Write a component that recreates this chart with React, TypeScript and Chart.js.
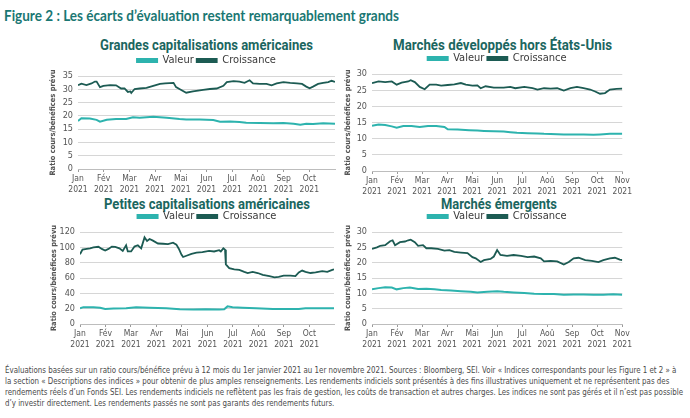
import React, { useEffect, useLayoutEffect, useRef } from "react";
import { Chart, registerables } from "chart.js";
Chart.register(...registerables);

// ---------- data ----------
const monthLabels = ["Jan", "Fév", "Mar", "Avr", "Mai", "Jun", "Jul", "Aoû", "Sep", "Oct", "Nov"];
const yearLabel = "2021";
const seriesNames = ["Valeur", "Croissance"];
const yAxisTitle = "Ratio cours/bénéfices prévu";
const panelTitles = [
  "Grandes capitalisations américaines",
  "Marchés développés hors États-Unis",
  "Petites capitalisations américaines",
  "Marchés émergents",
];

// x values are days since 1 Jan 2021
// Grandes capitalisations américaines
const largeGrowthDays = [0, 4, 10, 16, 20, 22, 26, 30, 38, 45, 51, 55, 59, 62, 63, 67, 73, 81, 89, 97, 103, 113, 116, 120, 128, 136, 148, 156, 164, 172, 176, 184, 191, 197, 203, 207, 215, 223, 229, 235, 243, 251, 259, 265, 270, 274, 278, 284, 290, 296, 300, 304];
const largeGrowthValues = [31.5, 32.1, 31.6, 32.2, 32.9, 32.9, 30.8, 31.3, 31.6, 31.5, 30.3, 30.3, 29.0, 29.2, 28.6, 30.1, 30.3, 30.5, 31.3, 32.0, 32.2, 32.4, 30.8, 30.1, 28.7, 29.2, 29.8, 30.1, 30.3, 31.3, 32.7, 33.1, 32.9, 32.4, 33.4, 32.2, 32.0, 32.0, 31.5, 32.2, 32.7, 32.4, 32.2, 32.0, 31.0, 30.4, 31.0, 32.0, 32.4, 32.7, 33.2, 32.8];
const largeValueDays = [0, 4, 14, 22, 26, 34, 45, 57, 65, 73, 89, 105, 120, 128, 144, 160, 168, 180, 191, 199, 215, 231, 243, 255, 263, 270, 278, 290, 304];
const largeValueValues = [18.1, 19.1, 19.0, 18.5, 17.8, 18.5, 18.8, 18.8, 19.5, 19.3, 19.7, 19.3, 18.8, 18.6, 18.6, 18.4, 17.8, 17.9, 17.7, 17.4, 17.3, 17.2, 17.3, 17.0, 16.7, 17.0, 16.9, 17.2, 17.0];

// Marchés développés hors États-Unis
const devGrowthDays = [0, 8, 16, 24, 30, 36, 44, 47, 52, 58, 64, 70, 78, 84, 92, 100, 108, 114, 122, 128, 132, 138, 148, 160, 168, 174, 185, 195, 201, 209, 217, 225, 233, 241, 249, 257, 265, 271, 277, 283, 289, 297, 304];
const devGrowthValues = [27.2, 27.7, 27.5, 27.7, 26.7, 27.3, 27.7, 28.1, 27.5, 26.0, 25.3, 26.7, 26.7, 26.4, 26.6, 26.8, 27.2, 26.7, 26.4, 26.5, 25.6, 26.2, 25.8, 25.8, 26.0, 25.6, 26.0, 25.6, 25.2, 25.6, 25.5, 25.6, 24.9, 25.6, 26.0, 25.6, 25.2, 24.6, 23.9, 24.1, 25.2, 25.4, 25.5];
const devValueDays = [0, 8, 16, 24, 30, 38, 48, 58, 68, 78, 88, 92, 104, 118, 128, 136, 148, 160, 168, 176, 189, 201, 209, 225, 233, 241, 257, 269, 277, 289, 304];
const devValueValues = [14.0, 14.4, 14.2, 13.8, 13.4, 13.9, 13.9, 13.6, 13.9, 13.9, 13.6, 12.9, 12.8, 12.6, 12.5, 12.4, 12.3, 12.2, 12.0, 11.8, 11.7, 11.6, 11.5, 11.4, 11.3, 11.3, 11.3, 11.2, 11.3, 11.5, 11.5];

// Petites capitalisations américaines
const smallGrowthDays = [0, 3, 8, 12, 16, 22, 26, 30, 34, 38, 42, 47, 51, 55, 57, 61, 65, 69, 73, 77, 80, 83, 87, 93, 99, 105, 111, 115, 118, 121, 123, 127, 133, 139, 146, 154, 160, 166, 168, 171, 173, 174, 178, 184, 190, 196, 200, 206, 212, 218, 226, 232, 237, 243, 251, 257, 261, 265, 269, 275, 281, 289, 295, 301, 303];
const smallGrowthValues = [91, 97, 98, 98.7, 99.9, 100.7, 97.9, 95.9, 97.9, 101, 100.7, 98.7, 95.4, 102.7, 94.6, 94.6, 101, 102.7, 98.7, 113, 108.3, 110.8, 108.7, 105, 104.7, 104.3, 106, 103.5, 97.9, 90.6, 87.4, 89, 91.4, 93, 93.8, 95.4, 94.6, 96.3, 94.6, 98.7, 97, 77.7, 72.9, 71.3, 70.5, 68, 66.5, 68, 66.5, 64, 62.4, 60.8, 61.6, 63.2, 63.2, 62.4, 67.3, 69.7, 68, 66.5, 67.3, 68.9, 68, 70.5, 71.3];
const smallValueDays = [0, 4, 16, 24, 30, 40, 55, 67, 83, 103, 119, 135, 150, 166, 172, 176, 182, 194, 210, 230, 249, 261, 269, 289, 303];
const smallValueValues = [20.5, 22, 21.7, 21.3, 19.7, 20.1, 20.5, 21.7, 21.3, 20.5, 19.3, 18.9, 19.3, 18.9, 19.3, 23, 22, 21.3, 20.5, 19.7, 19.7, 19.7, 20.5, 20.5, 20.5];

// Marchés émergents
const emGrowthDays = [0, 6, 10, 16, 22, 25, 28, 34, 40, 44, 47, 52, 56, 62, 66, 72, 80, 88, 94, 100, 108, 116, 122, 126, 132, 136, 144, 148, 152, 156, 164, 172, 181, 189, 197, 205, 209, 217, 225, 233, 239, 245, 251, 259, 267, 275, 281, 289, 295, 301, 304];
const emGrowthValues = [24.5, 25, 25.5, 25.7, 27, 27.3, 25.7, 26.7, 26.9, 27.3, 27.5, 26.7, 25.5, 25.7, 24.7, 24.7, 24.5, 23.9, 24.1, 23.5, 23.3, 23.1, 21.8, 21.4, 20.2, 20.8, 21.2, 22, 24.1, 22.5, 22.2, 22.5, 22.2, 21.8, 22, 21.4, 20.4, 20.6, 20.4, 19.4, 20.2, 21.4, 21.6, 20.8, 20.6, 20.2, 20.8, 21.4, 21.6, 21, 20.8];
const emValueDays = [0, 8, 16, 24, 30, 38, 46, 56, 66, 76, 84, 96, 108, 120, 128, 140, 152, 160, 172, 185, 197, 209, 221, 233, 245, 257, 269, 281, 293, 304];
const emValueValues = [11.3, 11.7, 12.0, 11.9, 11.3, 11.7, 11.9, 11.4, 11.5, 11.3, 11.1, 10.9, 10.7, 10.5, 10.3, 10.5, 10.7, 10.5, 10.3, 10.1, 9.9, 9.8, 9.8, 9.5, 9.6, 9.6, 9.5, 9.5, 9.7, 9.5];

const figureTitle = "Figure 2 : Les écarts d’évaluation restent remarquablement grands";
const footnoteLines = [
  "Évaluations basées sur un ratio cours/bénéfice prévu à 12 mois du 1er janvier 2021 au 1er novembre 2021. Sources : Bloomberg, SEI. Voir « Indices correspondants pour les Figure 1 et 2 » à",
  "la section « Descriptions des indices » pour obtenir de plus amples renseignements. Les rendements indiciels sont présentés à des fins illustratives uniquement et ne représentent pas des",
  "rendements réels d’un Fonds SEI. Les rendements indiciels ne reflètent pas les frais de gestion, les coûts de transaction et autres charges. Les indices ne sont pas gérés et il n’est pas possible",
  "d’y investir directement. Les rendements passés ne sont pas garants des rendements futurs.",
];

// ---------- styles ----------
const VALUE_COLOR = "#2db3ae";
const GROWTH_COLOR = "#1c5b53";
const TITLE_COLOR = "#1b6660";
const NARROW = "'Liberation Sans Narrow', 'DejaVu Sans Condensed', Roboto, Arial, sans-serif";

type PanelProps = {
  left: number; top: number; width: number; height: number;
  axisWidth: number; xAxisHeight: number; padRight: number;
  yMax: number; yStep: number; xMax: number; labelCount: number;
  valueDays: number[]; valueValues: number[];
  growthDays: number[]; growthValues: number[];
};

function Panel(p: PanelProps) {
  const ref = useRef<HTMLCanvasElement>(null);
  useEffect(() => {
    if (!ref.current) return;
    const toPts = (d: number[], v: number[]) => d.map((x, i) => ({ x, y: v[i] }));
    const tickVals = monthLabels.slice(0, p.labelCount).map((_, i) => (i * 304) / 10);
    const chart = new Chart(ref.current, {
      type: "line",
      data: {
        datasets: [
          { label: seriesNames[0], data: toPts(p.valueDays, p.valueValues), borderColor: VALUE_COLOR, backgroundColor: VALUE_COLOR, borderWidth: 2, pointRadius: 0, tension: 0 },
          { label: seriesNames[1], data: toPts(p.growthDays, p.growthValues), borderColor: GROWTH_COLOR, backgroundColor: GROWTH_COLOR, borderWidth: 1.8, pointRadius: 0, tension: 0 },
        ],
      },
      options: {
        animation: false,
        responsive: false,
        layout: { padding: { left: 0, right: p.padRight, top: 0, bottom: 0 } },
        plugins: {
          title: { display: false },
          legend: {
            display: true, position: "top", fullSize: false,
            labels: { boxWidth: 20, boxHeight: 3, color: "#3a3a3a", font: { family: NARROW, size: 11 }, padding: 3 },
          },
          tooltip: { enabled: false },
        },
        scales: {
          x: {
            type: "linear", min: 0, max: p.xMax,
            afterBuildTicks: (s: any) => { s.ticks = tickVals.map((v) => ({ value: v })); },
            afterFit: (s: any) => { s.height = p.xAxisHeight; },
            ticks: {
              autoSkip: false, maxRotation: 0, padding: 2, color: "#555", font: { family: NARROW, size: 8.5 },
              callback: (v: any) => { const i = Math.round((Number(v) * 10) / 304); return [monthLabels[i], yearLabel]; },
            },
            grid: { drawOnChartArea: false, drawTicks: true, tickLength: 3, color: "#9a9a9a" },
            border: { display: true, color: "#bdbdbd" },
          },
          y: {
            min: 0, max: p.yMax,
            afterFit: (s: any) => { s.width = p.axisWidth; },
            ticks: { stepSize: p.yStep, autoSkip: false, padding: 5, color: "#555", font: { family: NARROW, size: 9 } },
            grid: { color: "#d6d6d6", drawTicks: false },
            border: { display: false },
            title: { display: true, text: yAxisTitle, color: "#555", font: { family: NARROW, size: 7.5, weight: "bold" }, padding: 0 },
          },
        },
      },
    });
    return () => chart.destroy();
  }, []);
  return (
    <canvas ref={ref} width={p.width} height={p.height}
      style={{ position: "absolute", left: p.left, top: p.top, width: p.width, height: p.height }} />
  );
}

function FitLines({ lines, left, top, lineHeight, refIndex, target, style }: any) {
  const ref = useRef<HTMLDivElement>(null);
  useLayoutEffect(() => {
    const el = ref.current;
    if (!el) return;
    el.style.transform = "none";
    const child = el.children[refIndex].firstElementChild as HTMLElement;
    const w = child.getBoundingClientRect().width;
    if (w > 0) el.style.transform = `scaleX(${target / w})`;
  }, []);
  return (
    <div ref={ref} style={{ position: "absolute", left, top, transformOrigin: "0 0", ...style }}>
      {lines.map((l: string, i: number) => (
        <div key={i} style={{ whiteSpace: "nowrap", height: lineHeight, lineHeight: lineHeight + "px" }}>
          <span style={{ display: "inline-block" }}>{l}</span>
        </div>
      ))}
    </div>
  );
}

function PanelTitle({ text, center, top, width }: any) {
  return (
    <FitLines lines={[text]} left={center - width / 2} top={top} lineHeight={17} refIndex={0} target={width}
      style={{ fontFamily: "Roboto, 'Noto Sans', sans-serif", fontWeight: 700, fontSize: 14, color: TITLE_COLOR }} />
  );
}

export default function App() {
  return (
    <div style={{ position: "fixed", left: 0, top: 0, width: 690, height: 418, background: "#fff", overflow: "hidden" }}>
      <FitLines lines={[figureTitle]} left={4} top={5} lineHeight={20} refIndex={0} target={395}
        style={{ fontFamily: "Lato, 'Noto Sans', sans-serif", fontWeight: 700, fontSize: 16, color: "#1a7773" }} />

      <PanelTitle text={panelTitles[0]} center={206.5} top={37} width={213} />
      <PanelTitle text={panelTitles[1]} center={502.5} top={37} width={219} />
      <PanelTitle text={panelTitles[2]} center={207} top={196} width={206} />
      <PanelTitle text={panelTitles[3]} center={499} top={196} width={116} />

      <Panel left={49} top={52} width={293} height={144}
        axisWidth={29} xAxisHeight={27} padRight={7} yMax={35} yStep={5} xMax={304} labelCount={10}
        valueDays={largeValueDays} valueValues={largeValueValues} growthDays={largeGrowthDays} growthValues={largeGrowthValues} />
      <Panel left={344} top={50} width={290} height={148}
        axisWidth={28} xAxisHeight={27} padRight={6} yMax={30} yStep={5} xMax={304} labelCount={11}
        valueDays={devValueDays} valueValues={devValueValues} growthDays={devGrowthDays} growthValues={devGrowthValues} />
      <Panel left={50} top={208} width={290} height={143}
        axisWidth={30} xAxisHeight={27} padRight={6} yMax={120} yStep={20} xMax={303} labelCount={10}
        valueDays={smallValueDays} valueValues={smallValueValues} growthDays={smallGrowthDays} growthValues={smallGrowthValues} />
      <Panel left={344} top={208} width={290} height={143}
        axisWidth={28} xAxisHeight={27} padRight={6} yMax={30} yStep={5} xMax={304} labelCount={11}
        valueDays={emValueDays} valueValues={emValueValues} growthDays={emGrowthDays} growthValues={emGrowthValues} />

      <FitLines lines={footnoteLines} left={5} top={365} lineHeight={11} refIndex={2} target={678}
        style={{ fontFamily: NARROW, fontSize: 9, color: "#4a4a4a" }} />
    </div>
  );
}
